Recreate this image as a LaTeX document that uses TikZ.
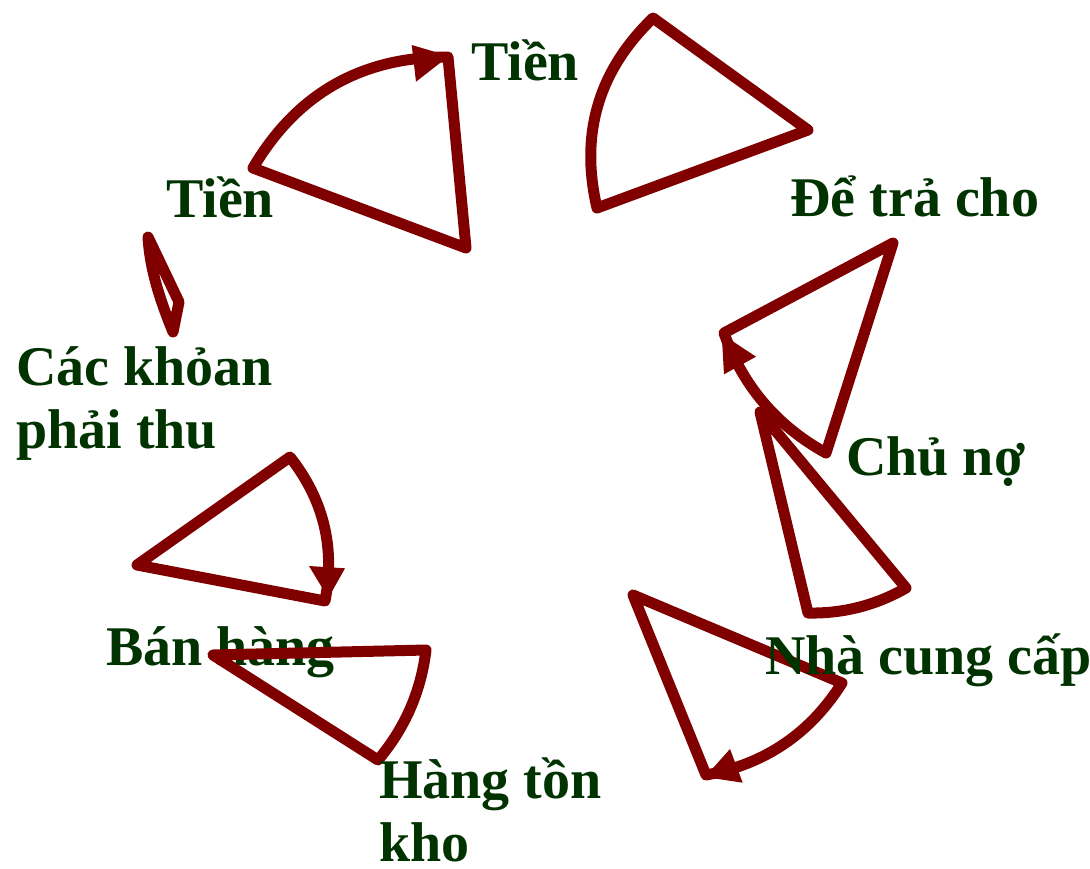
\documentclass[tikz,border=0pt]{standalone}
\usepackage{fontspec}
\setmainfont{Liberation Serif}
\definecolor{wred}{RGB}{128,0,0}
\definecolor{tgreen}{RGB}{0,51,0}
\begin{document}
\begin{tikzpicture}[x=1pt,y=-1pt,
  wedge/.style={draw=wred,line width=11pt,line join=round,line cap=round},
  head/.style={fill=wred,draw=none},
  lbl/.style={text=tgreen,font=\bfseries\fontsize{56}{63}\selectfont,anchor=base west,inner sep=0pt,align=left}]
\useasboundingbox (0,0) rectangle (1090,868);
% label drawn beneath the wedges
\node[lbl] (ban) at (106,665) {Bán hàng};
% wedge A (top left, arrow)
\draw[wedge] (466,248) -- (253,168) .. controls (296.7,93.7) and (361.7,56.7) .. (448,57) -- cycle;
\fill[head] (411.7,45) -- (449,56) -- (416,81.7) -- cycle;
% wedge B (top right)
\draw[wedge] (808,130) -- (597,208) .. controls (579.7,134) and (598.3,70.7) .. (653,18) -- cycle;
% wedge C (right, arrow)
\draw[wedge] (893,243) -- (826,453) .. controls (776.8,425.9) and (742.8,385.9) .. (724,333) -- cycle;
\fill[head] (724,374.3) -- (721.7,334) -- (756,356.7) -- cycle;
% wedge D
\draw[wedge] (760,412) -- (906,588) .. controls (875.6,605.4) and (842.9,613.7) .. (808,613) -- cycle;
% wedge E (arrow)
\draw[wedge] (633,595) -- (842,683) .. controls (810,733.7) and (764.7,764.3) .. (706,775) -- cycle;
\fill[head] (730,749) -- (705,777) -- (742.7,782.7) -- cycle;
% wedge F
\draw[wedge] (213,655) -- (426,650) .. controls (421,691.5) and (405,728.1) .. (378,760) -- cycle;
% wedge G (arrow)
\draw[wedge] (137,565) -- (290,457) .. controls (323.7,499.7) and (335.3,547.7) .. (325,601) -- cycle;
\fill[head] (309,566) -- (345,568.3) -- (328.3,598) -- cycle;
% wedge H (thin sliver)
\draw[wedge] (148,237) -- (179,302) -- (173,332) .. controls (160,300) and (150,270) .. cycle;
% labels
\node[lbl] (tien1) at (471,80) {Tiền};
\node[lbl] (tien2) at (166,217) {Tiền};
\node[lbl] (detra) at (790,216) {Để trả cho};
\node[lbl] (chuno) at (846,475) {Chủ nợ};
\node[lbl] (ncc) at (765,674) {Nhà cung cấp};
\node[lbl] (htk) at (379,861) {Hàng tồn\\kho};
\node[lbl] (ckpt) at (16,448) {Các khỏan\\phải thu};
\end{tikzpicture}
\end{document}
